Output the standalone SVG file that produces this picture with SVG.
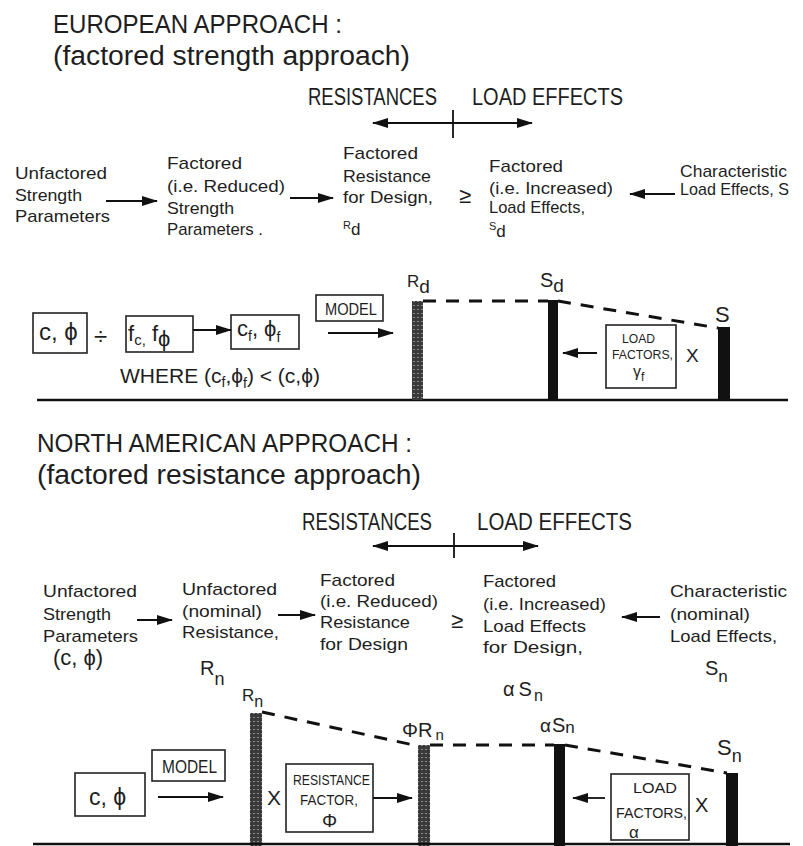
<svg xmlns="http://www.w3.org/2000/svg" width="803" height="846" viewBox="0 0 803 846">
<defs>
<style>
text { font-family: "Liberation Sans", Arial, sans-serif; fill: #1e1e1e; }
.h { font-size: 25px; }
.sh { font-size: 27px; }
.lbl { font-size: 23px; }
.t { font-size: 17px; }
.box { fill: none; stroke: #222; stroke-width: 1.6; }
.ln { stroke: #111; stroke-width: 1.8; fill: none; }
.dash { stroke: #111; stroke-width: 3; stroke-dasharray: 13 10; fill: none; }
.bar { fill: #111; }
.hbar { fill: url(#hatch); }
.gnd { stroke: #111; stroke-width: 2.5; }
</style>
<marker id="ah" markerUnits="userSpaceOnUse" markerWidth="16" markerHeight="10" viewBox="0 0 16 10" refX="15" refY="5" orient="auto-start-reverse"><path d="M0,0 L16,5 L0,10 z" fill="#111"/></marker>
<pattern id="hatch" patternUnits="userSpaceOnUse" width="4" height="4"><rect width="4" height="4" fill="#3a3a3a"/><rect x="1" y="1" width="2" height="1" fill="#8c8c8c"/></pattern>
</defs>
<rect width="803" height="846" fill="#fff"/>

<!-- ================= EUROPEAN ================= -->
<g id="eu-title">
<text class="h" x="53" y="33" textLength="289" lengthAdjust="spacingAndGlyphs">EUROPEAN APPROACH :</text>
<text class="sh" x="53" y="65" textLength="357" lengthAdjust="spacingAndGlyphs">(factored strength approach)</text>
</g>
<g id="eu-axis">
<text class="lbl" x="308" y="105" textLength="129" lengthAdjust="spacingAndGlyphs">RESISTANCES</text>
<text class="lbl" x="472" y="105" textLength="151" lengthAdjust="spacingAndGlyphs">LOAD EFFECTS</text>
<line class="ln" x1="453" y1="110" x2="453" y2="138"/>
</g>
<g id="eu-unfactored">
<text class="t" x="15" y="179" textLength="92" lengthAdjust="spacingAndGlyphs">Unfactored</text>
<text class="t" x="15" y="201" textLength="67" lengthAdjust="spacingAndGlyphs">Strength</text>
<text class="t" x="15" y="222" textLength="95" lengthAdjust="spacingAndGlyphs">Parameters</text>
</g>
<g id="eu-factored-strength">
<text class="t" x="167" y="169" textLength="75" lengthAdjust="spacingAndGlyphs">Factored</text>
<text class="t" x="167" y="192" textLength="118" lengthAdjust="spacingAndGlyphs">(i.e. Reduced)</text>
<text class="t" x="167" y="214" textLength="67" lengthAdjust="spacingAndGlyphs">Strength</text>
<text class="t" x="167" y="235" textLength="96" lengthAdjust="spacingAndGlyphs">Parameters .</text>
</g>
<g id="eu-factored-resistance">
<text class="t" x="343" y="159" textLength="75" lengthAdjust="spacingAndGlyphs">Factored</text>
<text class="t" x="343" y="182" textLength="88" lengthAdjust="spacingAndGlyphs">Resistance</text>
<text class="t" x="343" y="203" textLength="90" lengthAdjust="spacingAndGlyphs">for Design,</text>
<text x="343" y="229" font-size="11">R<tspan font-size="17" dy="6">d</tspan></text>
</g>
<g id="eu-ge"><text x="459" y="203" font-size="22">≥</text></g>
<g id="eu-factored-load">
<text class="t" x="489" y="172" textLength="74" lengthAdjust="spacingAndGlyphs">Factored</text>
<text class="t" x="489" y="194" textLength="124" lengthAdjust="spacingAndGlyphs">(i.e. Increased)</text>
<text class="t" x="489" y="213" textLength="96" lengthAdjust="spacingAndGlyphs">Load Effects,</text>
<text x="489" y="230" font-size="11">S<tspan font-size="17" dy="7">d</tspan></text>
</g>
<g id="eu-char-load">
<text class="t" x="680" y="177" textLength="107" lengthAdjust="spacingAndGlyphs">Characteristic</text>
<text class="t" x="680" y="195" textLength="109" lengthAdjust="spacingAndGlyphs">Load Effects, S</text>
</g>

<g id="eu-box-cphi">
<rect class="box" x="33" y="313" width="54" height="40"/>
<text x="39" y="340" font-size="24">c, ϕ</text>
</g>
<g id="eu-div"><text x="94" y="345" font-size="24">÷</text></g>
<g id="eu-box-fc">
<rect class="box" x="126" y="316" width="67" height="36"/>
<text x="128" y="341" font-size="22">f<tspan font-size="15" dy="4">c,</tspan><tspan font-size="22" dy="-4"> f</tspan><tspan font-size="22" dy="5">ϕ</tspan></text>
</g>
<g id="eu-box-cf">
<rect class="box" x="231" y="315" width="68" height="34"/>
<text x="237" y="336" font-size="22">c<tspan font-size="14" dy="5">f</tspan><tspan font-size="22" dy="-5">, ϕ</tspan><tspan font-size="14" dy="6">f</tspan></text>
</g>
<g id="eu-model">
<rect class="box" x="316" y="295" width="67" height="26"/>
<text x="325" y="315" font-size="16" textLength="52" lengthAdjust="spacingAndGlyphs">MODEL</text>
</g>
<g id="eu-where">
<text x="120" y="383" font-size="21">WHERE (c<tspan font-size="14" dy="4">f</tspan><tspan font-size="21" dy="-4">,ϕ</tspan><tspan font-size="14" dy="5">f</tspan><tspan font-size="21" dy="-5">) &lt; (c,ϕ)</tspan></text>
</g>
<g id="eu-ground"><line class="gnd" x1="37" y1="400" x2="788" y2="400"/></g>
<g id="eu-bar-rd">
<rect class="hbar" x="412" y="301" width="11" height="99"/>
<text x="407" y="287" font-size="17">R<tspan font-size="19" dy="6">d</tspan></text>
</g>
<g id="eu-bar-sd">
<rect class="bar" x="548" y="300" width="10" height="99"/>
<text x="540" y="287" font-size="20">S<tspan font-size="19" dy="5">d</tspan></text>
</g>
<g id="eu-bar-s">
<rect class="bar" x="718" y="327" width="12" height="72"/>
<text x="715" y="322" font-size="22">S</text>
</g>
<g id="eu-load-factors">
<rect class="box" x="606" y="325" width="70" height="63"/>
<text x="622" y="343" font-size="13" textLength="33" lengthAdjust="spacingAndGlyphs">LOAD</text>
<text x="612" y="359" font-size="13" textLength="61" lengthAdjust="spacingAndGlyphs">FACTORS,</text>
<text x="633" y="377" font-size="16">γ<tspan font-size="12" dy="4">f</tspan></text>
</g>
<g id="eu-x"><text x="686" y="362" font-size="19">X</text></g>

<!-- ================= NORTH AMERICAN ================= -->
<g id="na-title">
<text class="h" x="37" y="452" textLength="375" lengthAdjust="spacingAndGlyphs">NORTH AMERICAN APPROACH :</text>
<text class="sh" x="37" y="484" textLength="384" lengthAdjust="spacingAndGlyphs">(factored resistance approach)</text>
</g>
<g id="na-axis">
<text class="lbl" x="302" y="530" textLength="130" lengthAdjust="spacingAndGlyphs">RESISTANCES</text>
<text class="lbl" x="477" y="530" textLength="155" lengthAdjust="spacingAndGlyphs">LOAD EFFECTS</text>
<line class="ln" x1="454" y1="533" x2="454" y2="558"/>
</g>
<g id="na-unfactored-strength">
<text class="t" x="43" y="597" textLength="94" lengthAdjust="spacingAndGlyphs">Unfactored</text>
<text class="t" x="43" y="620" textLength="68" lengthAdjust="spacingAndGlyphs">Strength</text>
<text class="t" x="43" y="642" textLength="95" lengthAdjust="spacingAndGlyphs">Parameters</text>
<text x="53" y="665" font-size="22">(c, ϕ)</text>
</g>
<g id="na-unfactored-resistance">
<text class="t" x="182" y="595" textLength="95" lengthAdjust="spacingAndGlyphs">Unfactored</text>
<text class="t" x="182" y="617" textLength="80" lengthAdjust="spacingAndGlyphs">(nominal)</text>
<text class="t" x="182" y="638" textLength="97" lengthAdjust="spacingAndGlyphs">Resistance,</text>
<text x="200" y="675" font-size="20">R<tspan font-size="18" dy="10">n</tspan></text>
</g>
<g id="na-factored-resistance">
<text class="t" x="320" y="586" textLength="75" lengthAdjust="spacingAndGlyphs">Factored</text>
<text class="t" x="320" y="607" textLength="118" lengthAdjust="spacingAndGlyphs">(i.e. Reduced)</text>
<text class="t" x="320" y="628" textLength="90" lengthAdjust="spacingAndGlyphs">Resistance</text>
<text class="t" x="320" y="650" textLength="88" lengthAdjust="spacingAndGlyphs">for Design</text>
</g>
<g id="na-ge"><text x="451" y="628" font-size="22">≥</text></g>
<g id="na-factored-load">
<text class="t" x="483" y="587" textLength="73" lengthAdjust="spacingAndGlyphs">Factored</text>
<text class="t" x="483" y="610" textLength="123" lengthAdjust="spacingAndGlyphs">(i.e. Increased)</text>
<text class="t" x="483" y="632" textLength="103" lengthAdjust="spacingAndGlyphs">Load Effects</text>
<text class="t" x="483" y="653" textLength="100" lengthAdjust="spacingAndGlyphs">for Design,</text>
<text x="503" y="696" font-size="20">α<tspan dx="4">S</tspan><tspan font-size="16" dx="2" dy="5">n</tspan></text>
</g>
<g id="na-char-load">
<text class="t" x="670" y="597" textLength="117" lengthAdjust="spacingAndGlyphs">Characteristic</text>
<text class="t" x="670" y="620" textLength="80" lengthAdjust="spacingAndGlyphs">(nominal)</text>
<text class="t" x="670" y="642" textLength="107" lengthAdjust="spacingAndGlyphs">Load Effects,</text>
<text x="705" y="675" font-size="20">S<tspan font-size="17" dy="7">n</tspan></text>
</g>

<g id="na-box-cphi">
<rect class="box" x="75" y="773" width="70" height="43"/>
<text x="89" y="805" font-size="23">c, ϕ</text>
</g>
<g id="na-model">
<rect class="box" x="152" y="750" width="73" height="31"/>
<text x="162" y="773" font-size="18" textLength="55" lengthAdjust="spacingAndGlyphs">MODEL</text>
</g>
<g id="na-bar-rn">
<rect class="hbar" x="250" y="713" width="12" height="133"/>
<text x="242" y="701" font-size="17">R<tspan font-size="16" dy="6">n</tspan></text>
</g>
<g id="na-x1"><text x="267" y="805" font-size="21">X</text></g>
<g id="na-resistance-factor">
<rect class="box" x="286" y="764" width="87" height="68"/>
<text x="293" y="785" font-size="15" textLength="77" lengthAdjust="spacingAndGlyphs">RESISTANCE</text>
<text x="300" y="805" font-size="15" textLength="58" lengthAdjust="spacingAndGlyphs">FACTOR,</text>
<text x="322" y="827" font-size="19">Φ</text>
</g>
<g id="na-bar-phirn">
<rect class="hbar" x="418" y="745" width="12" height="101"/>
<text x="402" y="737" font-size="20">ΦR<tspan font-size="15" dx="3" dy="3">n</tspan></text>
</g>
<g id="na-bar-asn">
<rect class="bar" x="554" y="744" width="11" height="102"/>
<text x="540" y="732" font-size="19">α<tspan font-size="20" dx="1">S</tspan><tspan font-size="17" dy="1">n</tspan></text>
</g>
<g id="na-bar-sn">
<rect class="bar" x="726" y="773" width="12" height="73"/>
<text x="717" y="755" font-size="22">S<tspan font-size="18" dy="7">n</tspan></text>
</g>
<g id="na-load-factors">
<rect class="box" x="611" y="774" width="78" height="66"/>
<text x="633" y="793" font-size="15" textLength="44" lengthAdjust="spacingAndGlyphs">LOAD</text>
<text x="616" y="818" font-size="15" textLength="71" lengthAdjust="spacingAndGlyphs">FACTORS,</text>
<text x="629" y="838" font-size="17">α</text>
</g>
<g id="na-x2"><text x="695" y="812" font-size="20">X</text></g>
<g id="na-ground"><line class="gnd" x1="33" y1="844" x2="790" y2="844" stroke-width="2"/></g>

<!-- ================= CONNECTORS ================= -->
<g id="connectors">
<line class="ln" x1="373" y1="123" x2="532" y2="123" marker-start="url(#ah)" marker-end="url(#ah)"/>
<line class="ln" x1="106" y1="201" x2="157" y2="201" marker-end="url(#ah)"/>
<line class="ln" x1="290" y1="198" x2="333" y2="198" marker-end="url(#ah)"/>
<line class="ln" x1="675" y1="194" x2="630" y2="194" marker-end="url(#ah)"/>
<line class="ln" x1="193" y1="330" x2="231" y2="330" marker-end="url(#ah)"/>
<line class="ln" x1="328" y1="333" x2="393" y2="333" marker-end="url(#ah)"/>
<path class="dash" d="M423,301 L548,301"/>
<path class="dash" d="M558,301 L718,328"/>
<line class="ln" x1="597" y1="353" x2="563" y2="353" marker-end="url(#ah)"/>

<line class="ln" x1="373" y1="546" x2="538" y2="546" marker-start="url(#ah)" marker-end="url(#ah)"/>
<line class="ln" x1="137" y1="620" x2="172" y2="620" marker-end="url(#ah)"/>
<line class="ln" x1="278" y1="615" x2="315" y2="615" marker-end="url(#ah)"/>
<line class="ln" x1="660" y1="617" x2="622" y2="617" marker-end="url(#ah)"/>
<line class="ln" x1="158" y1="797" x2="223" y2="797" marker-end="url(#ah)"/>
<line class="ln" x1="373" y1="798" x2="412" y2="798" marker-end="url(#ah)"/>
<path class="dash" d="M262,712 L418,746"/>
<path class="dash" d="M430,745 L554,745"/>
<path class="dash" d="M565,745 L727,773"/>
<line class="ln" x1="605" y1="798" x2="573" y2="798" marker-end="url(#ah)"/>
</g>
</svg>
